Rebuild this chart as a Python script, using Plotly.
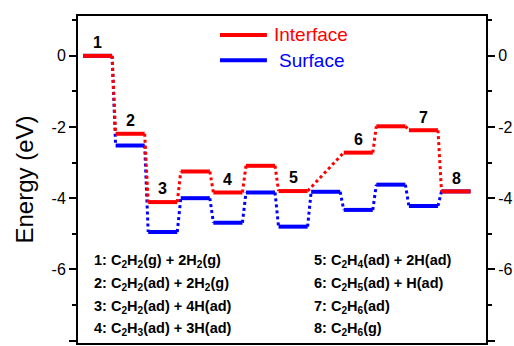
import plotly.graph_objects as go

# ---- data ----
steps = list(range(12))
interface = [0, -2.19, -4.11, -3.25, -3.84, -3.09, -3.80, None, -2.72, -1.98, -2.09, -3.81]
surface = [0, -2.52, -4.95, -4.00, -4.69, -3.84, -4.80, -3.82, -4.33, -3.62, -4.22, -3.81]
label_steps = [0, 1, 2, 4, 6, 8, 10, 11]
step_labels = ["1", "2", "3", "4", "5", "6", "7", "8"]
species_left = [
    "1: C<sub>2</sub>H<sub>2</sub>(g) + 2H<sub>2</sub>(g)",
    "2: C<sub>2</sub>H<sub>2</sub>(ad) + 2H<sub>2</sub>(g)",
    "3: C<sub>2</sub>H<sub>2</sub>(ad) + 4H(ad)",
    "4: C<sub>2</sub>H<sub>3</sub>(ad) + 3H(ad)",
]
species_right = [
    "5: C<sub>2</sub>H<sub>4</sub>(ad) + 2H(ad)",
    "6: C<sub>2</sub>H<sub>5</sub>(ad) + H(ad)",
    "7: C<sub>2</sub>H<sub>6</sub>(ad)",
    "8: C<sub>2</sub>H<sub>6</sub>(g)",
]
ytick_vals = [-8, -6, -4, -2, 0]
ytick_text = ["-8", "-6", "-4", "-2", "0"]
yminor_vals = [-7, -5, -3, -1, 1]

RED = "#FF0000"
BLUE = "#0000FF"
FONT = "Liberation Sans, Arial, sans-serif"
HALF = 0.446
LABEL_OFFSET = 0.37


def level_paths(vals):
    pts = [(i, v) for i, v in zip(steps, vals) if v is not None]
    hx, hy, dx, dy = [], [], [], []
    for i, v in pts:
        hx += [i - HALF, i + HALF, None]
        hy += [v, v, None]
    for (i0, v0), (i1, v1) in zip(pts[:-1], pts[1:]):
        dx += [i0 + HALF, i1 - HALF, None]
        dy += [v0, v1, None]
    return hx, hy, dx, dy


fig = go.Figure()
for vals, col in [(surface, BLUE), (interface, RED)]:
    hx, hy, dx, dy = level_paths(vals)
    fig.add_trace(go.Scatter(x=dx, y=dy, mode="lines",
                             line=dict(color=col, width=3, dash="dot"),
                             hoverinfo="skip", showlegend=False))
    fig.add_trace(go.Scatter(x=hx, y=hy, mode="lines",
                             line=dict(color=col, width=4),
                             hoverinfo="skip", showlegend=False))

# dummy trace for right axis
fig.add_trace(go.Scatter(x=[None], y=[None], yaxis="y2", showlegend=False))

# step number labels
for idx, lab in zip(label_steps, step_labels):
    fig.add_annotation(x=idx, y=interface[idx] + LABEL_OFFSET, text=lab,
                       showarrow=False, xanchor="center", yanchor="middle",
                       font=dict(family=FONT, size=16, color="black", weight="bold"))

# species list
row_y = [0.2517, 0.180, 0.1116, 0.0428]
for txt, yy in zip(species_left, row_y):
    fig.add_annotation(x=0.034, y=yy, xref="paper", yref="paper", text=txt,
                       showarrow=False, xanchor="left", yanchor="middle",
                       font=dict(family=FONT, size=14.5, color="black", weight="bold"))
for txt, yy in zip(species_right, row_y):
    fig.add_annotation(x=0.574, y=yy, xref="paper", yref="paper", text=txt,
                       showarrow=False, xanchor="left", yanchor="middle",
                       font=dict(family=FONT, size=14.5, color="black", weight="bold"))

# legend (drawn)
for name, col, yy, xt in [("Interface", RED, 0.942, 0.476), ("Surface", BLUE, 0.865, 0.488)]:
    fig.add_shape(type="line", xref="paper", yref="paper", x0=0.348, x1=0.463,
                  y0=yy, y1=yy, line=dict(color=col, width=4))
    fig.add_annotation(x=xt, y=yy, xref="paper", yref="paper", text=name,
                       showarrow=False, xanchor="left", yanchor="middle",
                       font=dict(family=FONT, size=19, color=col))

yaxis_common = dict(
    range=[-8.07, 1.12],
    tickmode="array", tickvals=ytick_vals, ticktext=ytick_text,
    ticks="outside", ticklen=7, tickwidth=2, tickcolor="black",
    minor=dict(tickmode="array", tickvals=yminor_vals, ticks="outside",
               ticklen=4, tickwidth=2, tickcolor="black", showgrid=False),
    showline=True, linewidth=2, linecolor="black",
    showgrid=False, zeroline=False,
    tickfont=dict(family=FONT, size=16, color="black"),
)

fig.update_layout(
    width=514, height=346,
    margin=dict(l=78, r=28, t=16, b=3, autoexpand=False),
    plot_bgcolor="white", paper_bgcolor="white",
    showlegend=False,
    xaxis=dict(range=[-0.6, 11.92], showline=True, linewidth=2, linecolor="black",
               mirror=True, showticklabels=False, ticks="", showgrid=False,
               zeroline=False),
    yaxis=dict(**yaxis_common,
               title=dict(text="Energy (eV)", standoff=11,
                          font=dict(family=FONT, size=24, color="black"))),
    yaxis2=dict(**yaxis_common, overlaying="y", side="right"),
)

# remove the default 8px page margin so the 514x346 figure fills the window
fig.write_html(
    "out.html",
    config={"displayModeBar": False},
    post_script="document.body.style.margin='0';document.body.style.overflow='hidden';",
)
